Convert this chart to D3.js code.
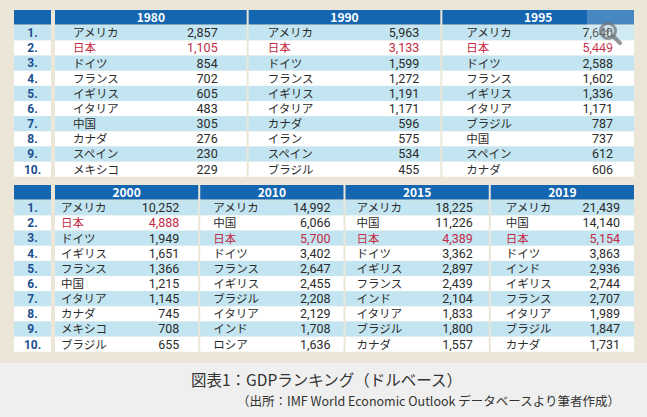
<!DOCTYPE html>
<html>
<head>
<meta charset="utf-8">
<script src="https://cdn.jsdelivr.net/npm/d3@7"></script>
<style>
  html, body { margin: 0; padding: 0; background: #efefef; }
  svg { display: block; }
  text { font-family: "Noto Sans CJK JP", "Noto Sans", sans-serif; }
  text.num { font-family: Roboto, "Noto Sans", sans-serif; }
</style>
</head>
<body>
<svg id="chart"></svg>
<script>
// GDP ranking (billion USD), IMF WEO
const years = ["1980", "1990", "1995", "2000", "2010", "2015", "2019"];
const ranks = ["1.", "2.", "3.", "4.", "5.", "6.", "7.", "8.", "9.", "10."];

const names1980 = ["アメリカ", "日本", "ドイツ", "フランス", "イギリス", "イタリア", "中国", "カナダ", "スペイン", "メキシコ"];
const values1980 = [2857, 1105, 854, 702, 605, 483, 305, 276, 230, 229];
const names1990 = ["アメリカ", "日本", "ドイツ", "フランス", "イギリス", "イタリア", "カナダ", "イラン", "スペイン", "ブラジル"];
const values1990 = [5963, 3133, 1599, 1272, 1191, 1171, 596, 575, 534, 455];
const names1995 = ["アメリカ", "日本", "ドイツ", "フランス", "イギリス", "イタリア", "ブラジル", "中国", "スペイン", "カナダ"];
const values1995 = [7640, 5449, 2588, 1602, 1336, 1171, 787, 737, 612, 606];
const names2000 = ["アメリカ", "日本", "ドイツ", "イギリス", "フランス", "中国", "イタリア", "カナダ", "メキシコ", "ブラジル"];
const values2000 = [10252, 4888, 1949, 1651, 1366, 1215, 1145, 745, 708, 655];
const names2010 = ["アメリカ", "中国", "日本", "ドイツ", "フランス", "イギリス", "ブラジル", "イタリア", "インド", "ロシア"];
const values2010 = [14992, 6066, 5700, 3402, 2647, 2455, 2208, 2129, 1708, 1636];
const names2015 = ["アメリカ", "中国", "日本", "ドイツ", "イギリス", "フランス", "インド", "イタリア", "ブラジル", "カナダ"];
const values2015 = [18225, 11226, 4389, 3362, 2897, 2439, 2104, 1833, 1800, 1557];
const names2019 = ["アメリカ", "中国", "日本", "ドイツ", "インド", "イギリス", "フランス", "イタリア", "ブラジル", "カナダ"];
const values2019 = [21439, 14140, 5154, 3863, 2936, 2744, 2707, 1989, 1847, 1731];

const highlight = "日本";
const captionTitle = "図表1：GDPランキング（ドルベース）";
const captionSource = "（出所：IMF World Economic Outlook データベースより筆者作成）";

const tables = [
  { year: years[0], names: names1980, values: values1980 },
  { year: years[1], names: names1990, values: values1990 },
  { year: years[2], names: names1995, values: values1995 },
  { year: years[3], names: names2000, values: values2000 },
  { year: years[4], names: names2010, values: values2010 },
  { year: years[5], names: names2015, values: values2015 },
  { year: years[6], names: names2019, values: values2019 }
];

const width = 647, height = 417;
const blue = "#1466b1", light = "#c3e5f1", rankColor = "#1c4f90", red = "#c42a43", ink = "#2b2b2b";

const svg = d3.select("#chart").attr("width", width).attr("height", height);

svg.append("rect").attr("width", width).attr("height", height).attr("fill", "#efefef");
svg.append("rect").attr("width", width).attr("height", 363).attr("fill", "#ebe6d7");

// two bands of tables: top row 3 years, bottom row 4 years
const blocks = [
  { items: tables.slice(0, 3), top: 10, namePad: [18, 19, 24], numPad: [29, 21, 21] },
  { items: tables.slice(3), top: 185, namePad: [6, 13, 11, 15], numPad: [19, 13, 16, 14] }
];

const fmt = d3.format(",");

blocks.forEach(block => {
  const n = block.items.length;
  const gap = 2, x0 = 55, x1 = 634;
  const x = d3.scaleBand()
    .domain(block.items.map(d => d.year))
    .range([x0, x1])
    .paddingInner(gap / ((x1 - x0 + gap) / n));

  const headH = 14.5;
  const y = d3.scaleBand()
    .domain(d3.range(10))
    .range([block.top + headH + 0.8, block.top + headH + 0.8 + 151.5]);

  const g = svg.append("g");

  // rank column
  g.append("rect").attr("x", 14).attr("y", block.top).attr("width", 37).attr("height", headH).attr("fill", blue);
  g.selectAll(".rk-bg").data(ranks).join("rect")
    .attr("x", 14).attr("y", (d, i) => y(i))
    .attr("width", 37).attr("height", y.bandwidth())
    .attr("fill", (d, i) => i % 2 === 0 ? light : "#fff");
  g.selectAll(".rk").data(ranks).join("text")
    .attr("class", "num")
    .attr("x", 32.5).attr("y", (d, i) => y(i) + y.bandwidth() / 2 + 4.3)
    .attr("text-anchor", "middle")
    .attr("font-size", 12).attr("font-weight", "bold")
    .attr("fill", rankColor)
    .text(d => d);

  block.items.forEach((t, k) => {
    const px = x(t.year), bw = x.bandwidth();
    const p = g.append("g");
    p.append("rect").attr("x", px).attr("y", block.top).attr("width", bw).attr("height", headH).attr("fill", blue);
    p.append("text")
      .attr("x", px + bw / 2).attr("y", block.top + headH / 2 + 4.3)
      .attr("text-anchor", "middle").attr("font-size", 12).attr("font-weight", "bold")
      .attr("fill", "#fff").text(t.year);

    const rows = p.selectAll("g.row").data(t.names.map((nm, i) => ({ nm, v: t.values[i], i })))
      .join("g").attr("class", "row");
    rows.append("rect")
      .attr("x", px).attr("y", d => y(d.i))
      .attr("width", bw).attr("height", y.bandwidth())
      .attr("fill", d => d.i % 2 === 0 ? light : "#fff");
    rows.append("text")
      .attr("x", px + block.namePad[k]).attr("y", d => y(d.i) + y.bandwidth() / 2 + 4.4)
      .attr("font-size", 11.5)
      .attr("fill", d => d.nm === highlight ? red : ink)
      .text(d => d.nm);
    rows.append("text")
      .attr("class", "num")
      .attr("x", px + bw - block.numPad[k]).attr("y", d => y(d.i) + y.bandwidth() / 2 + 4.4)
      .attr("text-anchor", "end").attr("font-size", 12.5)
      .attr("fill", d => d.nm === highlight ? red : ink)
      .text(d => fmt(d.v));
  });
});

// zoom icon overlay
const icon = svg.append("g");
icon.append("rect").attr("x", 587).attr("y", 10).attr("width", 47).attr("height", 37)
  .attr("fill", "#fff").attr("opacity", 0.22);
icon.append("circle").attr("cx", 608).attr("cy", 31).attr("r", 7.5)
  .attr("fill", "none").attr("stroke", "#6f7377").attr("stroke-width", 3).attr("opacity", 0.75);
icon.append("line").attr("x1", 613.5).attr("y1", 36.5).attr("x2", 620).attr("y2", 43)
  .attr("stroke", "#6f7377").attr("stroke-width", 4).attr("stroke-linecap", "round").attr("opacity", 0.75);
icon.append("path").attr("d", "M604.5,31h7M608,27.5v7")
  .attr("stroke", "#6f7377").attr("stroke-width", 1.6).attr("opacity", 0.75);

// caption
svg.append("text").attr("x", 191).attr("y", 386)
  .attr("font-size", 15.5).attr("fill", "#333").text(captionTitle);
svg.append("text").attr("x", 237).attr("y", 406)
  .attr("font-size", 12.5).attr("fill", "#333").text(captionSource);
</script>
</body>
</html>
